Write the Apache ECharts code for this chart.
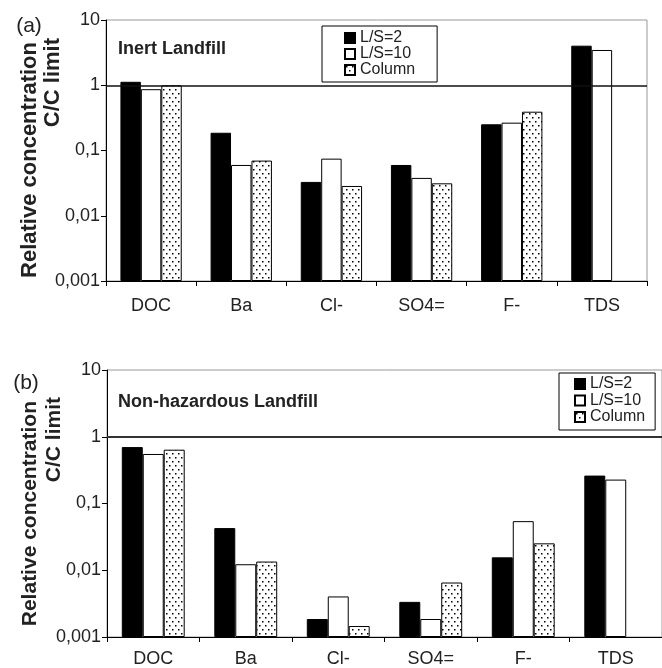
<!DOCTYPE html>
<html>
<head>
<meta charset="utf-8">
<script src="https://cdn.jsdelivr.net/npm/echarts@6/dist/echarts.min.js"></script>
<style>
html,body{margin:0;padding:0;background:#fff;}
#chart{width:662px;height:668px;}
</style>
</head>
<body>
<div id="chart"></div>
<script>
// ---- data ----
var categories = ['DOC', 'Ba', 'Cl-', 'SO4=', 'F-', 'TDS'];
var seriesNames = ['L/S=2', 'L/S=10', 'Column'];
var inertLS2    = [1.13, 0.187, 0.033, 0.060, 0.252, 4.04];
var inertLS10   = [0.87, 0.060, 0.075, 0.038, 0.267, 3.47];
var inertColumn = [1.00, 0.070, 0.0286, 0.0314, 0.393, '-'];
var nonhazLS2    = [0.70, 0.0428, 0.00186, 0.00336, 0.0156, 0.262];
var nonhazLS10   = [0.552, 0.0123, 0.00405, 0.00186, 0.0544, 0.228];
var nonhazColumn = [0.64, 0.0135, 0.00146, 0.00655, 0.0253, '-'];
var yTickLabels = {'-3': '0,001', '-2': '0,01', '-1': '0,1', '0': '1', '1': '10'};
var limitValue = 1;

// ---- dotted pattern ----
var pc = document.createElement('canvas');
pc.width = 6; pc.height = 8;
var ctx = pc.getContext('2d');
ctx.fillStyle = '#fff'; ctx.fillRect(0, 0, 6, 8);
ctx.fillStyle = '#000';
ctx.fillRect(1, 1, 1.5, 1.5);
ctx.fillRect(4, 5, 1.5, 1.5);
var dotPattern = {image: pc, repeat: 'repeat'};

var FONT = 'Liberation Sans, Arial, sans-serif';
var fills = ['#000', '#fff', dotPattern];

function yAxisFor(gi) {
  return {
    type: 'log', logBase: 10, min: 0.001, max: 10, gridIndex: gi, startValue: 0.001,
    axisLine: {show: true, lineStyle: {color: '#000', width: 1}},
    axisTick: {show: true, inside: false, length: 5, lineStyle: {color: '#000'}},
    axisLabel: {
      margin: 6, color: '#222', fontSize: 18, fontFamily: FONT,
      formatter: function (v) { var e = Math.round(Math.log10(v)); return yTickLabels[String(e)] || ''; }
    },
    splitLine: {show: false}, minorTick: {show: false}
  };
}
function xAxisFor(gi, margin) {
  return {
    type: 'category', data: categories, gridIndex: gi, boundaryGap: true,
    axisLine: {show: true, lineStyle: {color: '#000', width: 1}},
    axisTick: {show: true, length: 5, alignWithLabel: false, lineStyle: {color: '#000'}},
    axisLabel: {margin: margin, color: '#222', fontSize: 18, fontFamily: FONT, interval: 0},
    splitLine: {show: false}
  };
}
function barSeries(gi, dataArrs, lineColor, lineWidth) {
  return dataArrs.map(function (d, i) {
    var s = {
      name: seriesNames[i], type: 'bar', xAxisIndex: gi, yAxisIndex: gi,
      data: d, barGap: '0%', barCategoryGap: '32%',
      itemStyle: {color: fills[i], borderColor: '#000', borderWidth: 1},
      emphasis: {disabled: true}, animation: false
    };
    if (i === 0) {
      s.markLine = {
        silent: true, symbol: 'none', animation: false,
        label: {show: false},
        lineStyle: {color: lineColor, width: lineWidth, type: 'solid'},
        data: [{yAxis: limitValue}]
      };
    }
    return s;
  });
}

var chart = echarts.init(document.getElementById('chart'), null, {renderer: 'canvas'});
chart.setOption({
  backgroundColor: '#fff',
  animation: false,
  textStyle: {fontFamily: FONT},
  grid: [
    {left: 106, top: 20, width: 541, height: 261, show: true, borderColor: '#999', borderWidth: 1, backgroundColor: 'transparent'},
    {left: 107, top: 370, width: 558, height: 268, show: true, borderColor: '#999', borderWidth: 1, backgroundColor: 'transparent'}
  ],
  xAxis: [xAxisFor(0, 16), xAxisFor(1, 13)],
  yAxis: [yAxisFor(0), yAxisFor(1)],
  legend: [
    {
      data: seriesNames, orient: 'vertical', left: 322, top: 26, icon: 'rect',
      itemWidth: 10, itemHeight: 10, itemGap: 0,
      padding: [4, 22, 4, 22], borderColor: '#000', borderWidth: 1, backgroundColor: '#fff',
      textStyle: {fontSize: 16, lineHeight: 15, color: '#222', fontFamily: FONT},
      selectedMode: false
    },
    {
      data: seriesNames, orient: 'vertical', left: 559, top: 373, icon: 'rect',
      itemWidth: 10, itemHeight: 10, itemGap: 0.5,
      padding: [3, 10, 5, 15], borderColor: '#000', borderWidth: 1, backgroundColor: '#fff',
      textStyle: {fontSize: 16, lineHeight: 15, color: '#222', fontFamily: FONT},
      selectedMode: false
    }
  ],
  graphic: [
    {type: 'text', x: 29, y: 26, style: {text: '(a)', fontSize: 21, fontFamily: FONT, fill: '#222', align: 'center', verticalAlign: 'middle'}},
    {type: 'text', x: 26, y: 383, style: {text: '(b)', fontSize: 21, fontFamily: FONT, fill: '#222', align: 'center', verticalAlign: 'middle'}},
    {type: 'text', x: 118, y: 49, style: {text: 'Inert Landfill', fontSize: 18, fontWeight: 'bold', fontFamily: FONT, fill: '#222', align: 'left', verticalAlign: 'middle'}},
    {type: 'text', x: 118, y: 402, style: {text: 'Non-hazardous Landfill', fontSize: 18, fontWeight: 'bold', fontFamily: FONT, fill: '#222', align: 'left', verticalAlign: 'middle'}},
    {type: 'text', x: 30, y: 42, rotation: Math.PI / 2, style: {text: 'Relative concentration', fontSize: 22, fontWeight: 'bold', fontFamily: FONT, fill: '#222', align: 'right', verticalAlign: 'middle'}},
    {type: 'text', x: 53, y: 38, rotation: Math.PI / 2, style: {text: 'C/C limit', fontSize: 22, fontWeight: 'bold', fontFamily: FONT, fill: '#222', align: 'right', verticalAlign: 'middle'}},
    {type: 'text', x: 30, y: 401, rotation: Math.PI / 2, style: {text: 'Relative concentration', fontSize: 21, fontWeight: 'bold', fontFamily: FONT, fill: '#222', align: 'right', verticalAlign: 'middle'}},
    {type: 'text', x: 54, y: 397, rotation: Math.PI / 2, style: {text: 'C/C limit', fontSize: 21, fontWeight: 'bold', fontFamily: FONT, fill: '#222', align: 'right', verticalAlign: 'middle'}}
  ],
  series: [].concat(
    barSeries(0, [inertLS2, inertLS10, inertColumn], '#111', 1.5),
    barSeries(1, [nonhazLS2, nonhazLS10, nonhazColumn], '#333', 2)
  )
});
</script>
</body>
</html>
